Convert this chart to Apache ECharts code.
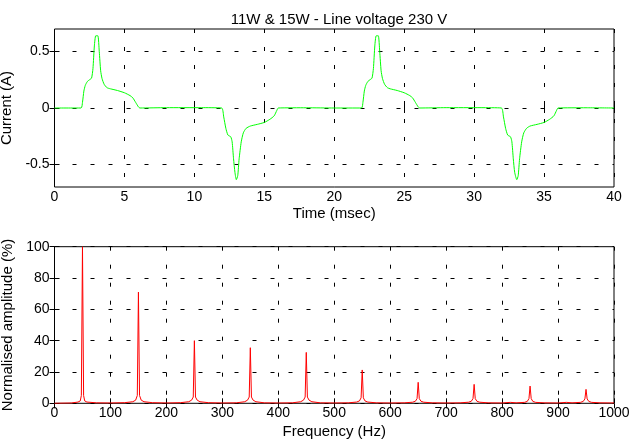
<!DOCTYPE html>
<html>
<head>
<meta charset="utf-8">
<script src="https://cdn.jsdelivr.net/npm/echarts@6/dist/echarts.min.js"></script>
<style>html,body{margin:0;padding:0;background:#fff}#c{width:629px;height:441px}</style>
</head>
<body>
<div id="c"></div>
<script>
const titleText = '11W & 15W - Line voltage 230 V';
const timeMs = [0, 1.9, 2.0, 2.1, 2.2, 2.35, 2.5, 2.65, 2.75, 2.85, 2.95, 3.1, 3.2, 3.3, 3.4, 3.55, 3.75, 4.0, 4.5, 5.0, 5.4, 5.6, 5.8, 6.0, 6.1, 8.0, 10.5, 11.95, 12.1, 12.25, 12.4, 12.6, 12.7, 12.8, 12.9, 13.0, 13.1, 13.2, 13.35, 13.5, 13.7, 14.0, 14.5, 15.0, 15.4, 15.7, 15.9, 16.0, 18.0,
  20.0, 21.95, 22.05, 22.15, 22.25, 22.4, 22.55, 22.7, 22.8, 22.9, 23.0, 23.15, 23.25, 23.35, 23.45, 23.6, 23.8, 24.0, 24.5, 25.0, 25.4, 25.6, 25.8, 26.0, 26.1, 28.0, 30.5, 31.95, 32.1, 32.25, 32.4, 32.6, 32.7, 32.8, 32.9, 33.05, 33.15, 33.25, 33.4, 33.55, 33.75, 34.0, 34.5, 35.0, 35.4, 35.7, 35.9, 36.0, 38.0, 40.0];
const currentA = [0, 0, 0.05, 0.15, 0.2, 0.235, 0.25, 0.265, 0.35, 0.55, 0.64, 0.64, 0.5, 0.33, 0.26, 0.21, 0.18, 0.17, 0.155, 0.135, 0.11, 0.09, 0.05, 0.01, 0, 0.003, 0.003, 0, -0.08, -0.18, -0.24, -0.255, -0.3, -0.45, -0.57, -0.635, -0.6, -0.45, -0.3, -0.22, -0.18, -0.16, -0.145, -0.128, -0.1, -0.07, -0.02, 0, 0.002,
  0, 0, 0.05, 0.15, 0.2, 0.235, 0.25, 0.265, 0.35, 0.55, 0.64, 0.64, 0.5, 0.33, 0.26, 0.21, 0.18, 0.17, 0.155, 0.135, 0.11, 0.09, 0.05, 0.01, 0, 0.003, 0.003, 0, -0.08, -0.18, -0.24, -0.255, -0.3, -0.45, -0.57, -0.635, -0.6, -0.45, -0.3, -0.22, -0.18, -0.16, -0.145, -0.128, -0.1, -0.07, -0.02, 0, 0.002, 0];
const freqHz = [0, 30, 42, 46, 48, 50, 52, 54, 58, 75, 100, 125, 140, 145, 148, 150, 152, 155, 160, 175, 200, 225, 240, 245, 248, 250, 252, 255, 260, 275, 300, 325, 340, 345, 348, 350, 352, 355, 360, 375, 400, 425, 440, 445, 448, 450, 452, 455, 460, 475, 500, 525, 540, 545, 548, 550, 552, 555, 560, 575, 600, 625, 640, 645, 648, 650, 652, 655, 660, 675, 700, 725, 740, 745, 748, 750, 752, 755, 760, 775, 800, 815, 825, 840, 845, 848, 850, 852, 855, 860, 875, 900, 915, 925, 940, 945, 948, 950, 952, 955, 960, 975, 1000];
const amplitudePct = [0, 0.2, 0.8, 1.5, 5, 100, 5, 1.5, 0.8, 0.3, 0.2, 0.4, 1, 2, 5, 71, 5, 2, 1, 0.4, 0.2, 0.4, 1, 2, 4, 40, 4, 2, 1, 0.4, 0.2, 0.3, 1, 2, 4, 35.5, 4, 2, 1, 0.3, 0.2, 0.3, 1, 2, 4, 32.5, 4, 2, 1, 0.3, 0.2, 0.3, 0.8, 1.5, 3.5, 21.3, 3.5, 1.5, 0.8, 0.3, 0.2, 0.3, 0.7, 1.3, 3, 13.4, 3, 1.3, 0.7, 0.3, 0.2, 0.3, 0.7, 1.3, 3, 12.1, 3, 1.3, 0.7, 0.3, 0.2, 0.6, 0.3, 0.6, 1.2, 3, 11, 3, 1.2, 0.6, 0.3, 0.2, 0.6, 0.3, 0.6, 1.2, 2.8, 8.9, 2.8, 1.2, 0.6, 0.3, 0.2];
const timeRange = [0, 40];
const timeTickValues = [0, 5, 10, 15, 20, 25, 30, 35, 40];
const currentRange = [-0.7, 0.7];
const currentTickValues = [-0.5, 0, 0.5];
const freqRange = [0, 1000];
const freqTickValues = [0, 100, 200, 300, 400, 500, 600, 700, 800, 900, 1000];
const ampRange = [0, 100];
const ampTickValues = [0, 20, 40, 60, 80, 100];

const font = 'Liberation Sans, Arial, sans-serif';
const txt = {color: '#000', fontFamily: font, fontSize: 14};
const nameTxt = {color: '#000', fontFamily: font, fontSize: 15};
const dash = {color: '#000', width: 1, type: [4, 14]};
const fmt = function (v) { return String(v); };

function xAx(gi, r, vals, name, top, gap) {
  return {
    type: 'value', gridIndex: gi, min: r[0], max: r[1],
    position: top ? 'top' : 'bottom',
    name: top ? '' : name, nameLocation: 'middle', nameGap: gap,
    nameTextStyle: nameTxt,
    axisLine: {show: false},
    axisTick: {show: true, inside: true, length: 5, customValues: vals, lineStyle: {color: '#000'}},
    axisLabel: top ? {show: false, customValues: vals} : Object.assign({margin: 3, customValues: vals, formatter: fmt, hideOverlap: false}, txt),
    splitLine: {show: !top, lineStyle: dash}
  };
}
function yAx(gi, r, vals, name, right) {
  return {
    type: 'value', gridIndex: gi, min: r[0], max: r[1],
    position: right ? 'right' : 'left',
    name: right ? '' : name, nameLocation: 'middle', nameGap: 32,
    nameTextStyle: nameTxt,
    axisLine: {show: false},
    axisTick: {show: true, inside: true, length: 5, customValues: vals, lineStyle: {color: '#000'}},
    axisLabel: right ? {show: false, customValues: vals} : Object.assign({margin: 5, customValues: vals, formatter: fmt}, txt),
    splitLine: {show: !right, lineStyle: dash}
  };
}

const chart = echarts.init(document.getElementById('c'));
chart.setOption({
  backgroundColor: '#fff',
  animation: false,
  title: {text: titleText, left: 334, top: 7, textAlign: 'center',
    textStyle: {color: '#000', fontFamily: font, fontSize: 15, fontWeight: 'normal'}},
  grid: [
    {left: 54.5, top: 29, width: 559.5, height: 158, show: true, borderColor: '#000', borderWidth: 1, backgroundColor: 'transparent', containLabel: false, outerBoundsMode: 'none'},
    {left: 54.5, top: 246.7, width: 559.5, height: 156.6, show: true, borderColor: '#000', borderWidth: 1, backgroundColor: 'transparent', containLabel: false, outerBoundsMode: 'none'}
  ],
  xAxis: [
    xAx(0, timeRange, timeTickValues, 'Time (msec)', false, 19),
    xAx(0, timeRange, timeTickValues, '', true),
    xAx(1, freqRange, freqTickValues, 'Frequency (Hz)', false, 21),
    xAx(1, freqRange, freqTickValues, '', true)
  ],
  yAxis: [
    yAx(0, currentRange, currentTickValues, 'Current (A)', false),
    yAx(0, currentRange, currentTickValues, '', true),
    yAx(1, ampRange, ampTickValues, 'Normalised amplitude (%)', false),
    yAx(1, ampRange, ampTickValues, '', true)
  ],
  series: [
    {type: 'line', xAxisIndex: 0, yAxisIndex: 0, showSymbol: false, smooth: 0.2,
      lineStyle: {color: '#00ff00', width: 1}, itemStyle: {color: '#00ff00'},
      data: timeMs.map((t, i) => [t, currentA[i]])},
    {type: 'line', xAxisIndex: 2, yAxisIndex: 2, showSymbol: false,
      lineStyle: {color: '#ff0000', width: 1}, itemStyle: {color: '#ff0000'},
      data: freqHz.map((f, i) => [f, amplitudePct[i]])}
  ]
});
</script>
</body>
</html>
